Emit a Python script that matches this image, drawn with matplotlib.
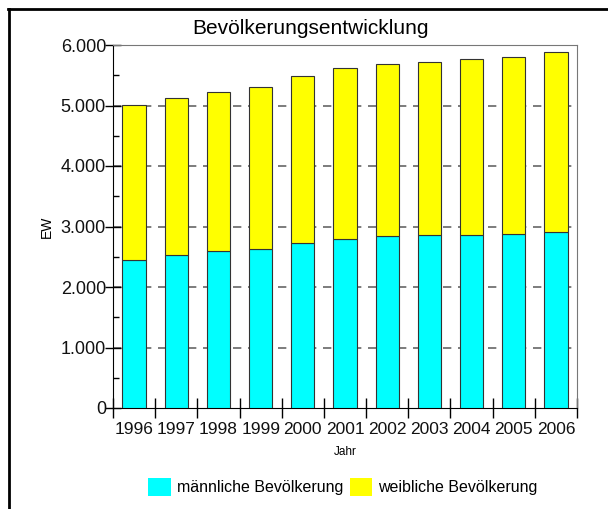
import matplotlib
matplotlib.use('Agg')
import matplotlib.pyplot as plt
from matplotlib.lines import Line2D
from matplotlib.patches import Patch

## data
jahre = ['1996', '1997', '1998', '1999', '2000', '2001', '2002', '2003', '2004', '2005', '2006']
maennlich = [2446, 2524, 2595, 2628, 2722, 2798, 2848, 2855, 2855, 2876, 2914]
gesamt = [5008, 5129, 5228, 5311, 5482, 5625, 5686, 5719, 5763, 5797, 5879]
weiblich = [g - m for g, m in zip(gesamt, maennlich)]
y_ticks = [0, 1000, 2000, 3000, 4000, 5000, 6000]
y_labels = ['0', '1.000', '2.000', '3.000', '4.000', '5.000', '6.000']

arial = ['Liberation Sans', 'DejaVu Sans']

W, H = 608, 509
fig = plt.figure(figsize=(W / 100, H / 100), dpi=100)
ax = fig.add_axes([113 / W, 1 - 408 / H, 464 / W, 363 / H])

x = list(range(len(jahre)))
ax.bar(x, maennlich, width=0.55, color='#00ffff', edgecolor='#333333', linewidth=0.8, zorder=3)
ax.bar(x, weiblich, bottom=maennlich, width=0.55, color='#ffff00', edgecolor='#333333', linewidth=0.8, zorder=3)

ax.set_xlim(-0.5, len(jahre) - 0.5)
ax.set_ylim(0, 6000)

## y axis
ax.set_yticks(y_ticks)
ax.set_yticklabels(y_labels, family=arial, size=13, color='#111111')
ax.set_yticks([500, 1500, 2500, 3500, 4500, 5500], minor=True)
ax.tick_params(axis='y', which='major', direction='inout', length=12, width=1, pad=-1)
ax.tick_params(axis='y', which='minor', direction='in', length=4, width=1)
for yv in y_ticks[1:-1]:
    ax.axhline(yv, color='#666666', lw=1.2, linestyle=(0, (5, 4)), zorder=1)

## x axis: labels centered, ticks at the category borders
ax.set_xticks(x)
ax.set_xticklabels(jahre, family=arial, size=12.5, color='#111111')
ax.tick_params(axis='x', which='major', length=0, pad=10)
ax.set_xticks([i - 0.5 for i in range(len(jahre) + 1)], minor=True)
ax.tick_params(axis='x', which='minor', direction='inout', length=14, width=1)

for s in ['left', 'bottom']:
    ax.spines[s].set_color('black')
for s in ['top', 'right']:
    ax.spines[s].set_color('#777777')

ax.set_ylabel('EW', family=arial, size=10)
ax.yaxis.set_label_coords((54 - 113) / 464, 0.5)
ax.set_xlabel('Jahr', family=arial, size=8.5)
ax.xaxis.set_label_coords(0.5, (408 - 446) / 363)

fig.text(311 / W, 1 - 28 / H, 'Bevölkerungsentwicklung', family=arial, size=15, ha='center', va='center')

## legend
handles = [Patch(facecolor='#00ffff', edgecolor='none'), Patch(facecolor='#ffff00', edgecolor='none')]
fig.legend(handles, ['männliche Bevölkerung', 'weibliche Bevölkerung'], loc='center',
           bbox_to_anchor=(343 / W, 1 - 487 / H), ncol=2, frameon=False,
           prop={'family': arial, 'size': 11.5}, handlelength=1.4, handleheight=1.4,
           handletextpad=0.4, columnspacing=0.4)

## outer frame (left and top only)
fig.add_artist(Line2D([9 / W, 9 / W], [0, 1 - 9 / H], color='black', lw=2, transform=fig.transFigure))
fig.add_artist(Line2D([8 / W, 1], [1 - 9 / H, 1 - 9 / H], color='black', lw=2, transform=fig.transFigure))

fig.savefig('out.png', dpi=100)
